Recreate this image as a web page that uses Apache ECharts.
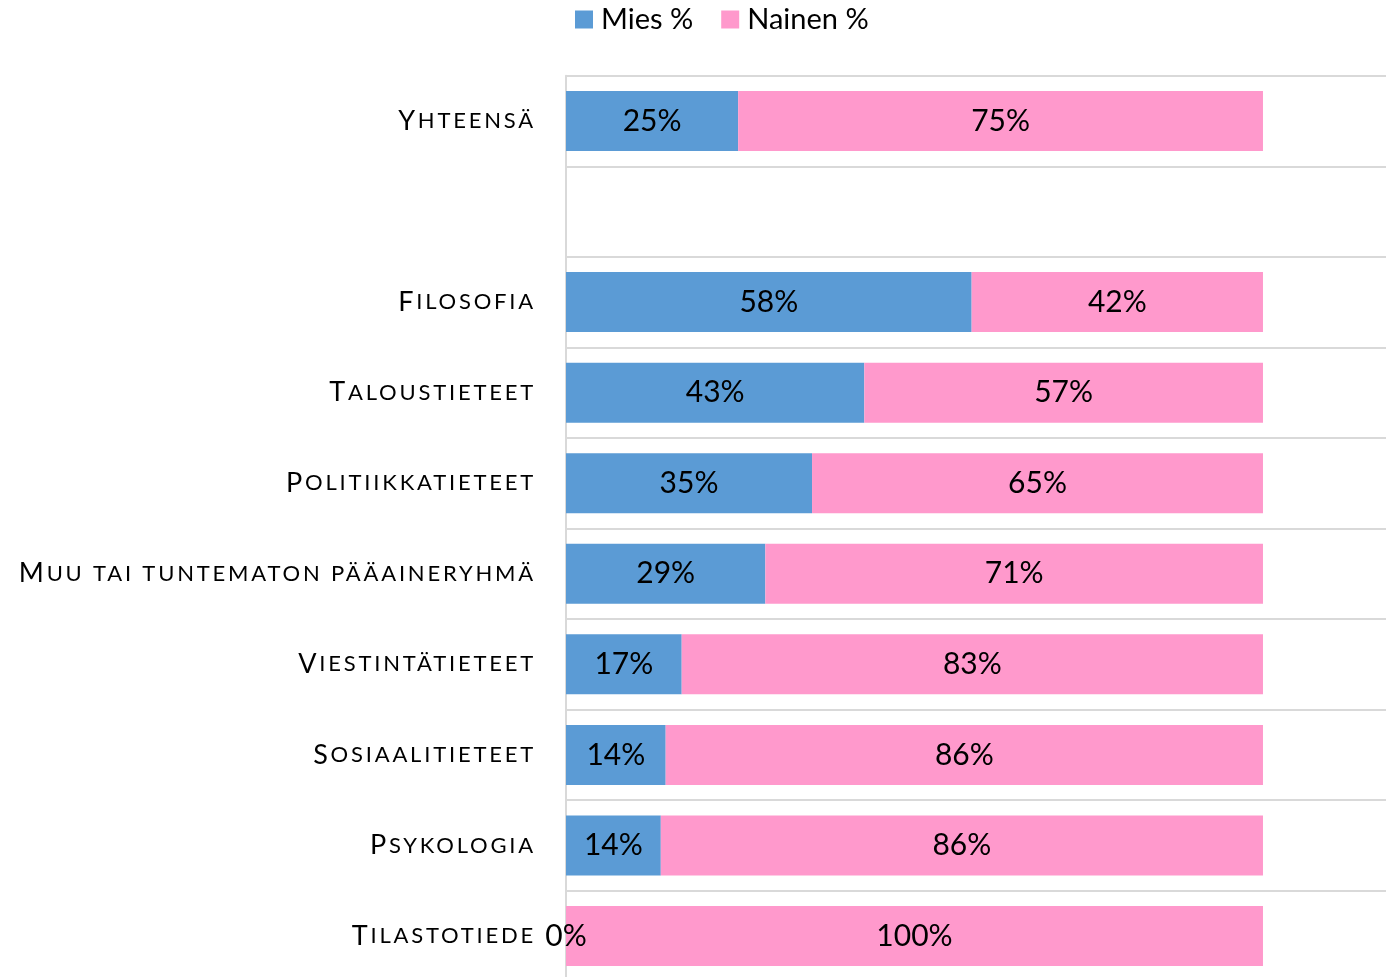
<!DOCTYPE html>
<html>
<head>
<meta charset="utf-8">
<script src="https://cdn.jsdelivr.net/npm/echarts@6/dist/echarts.min.js"></script>
<style>
html,body{margin:0;padding:0;background:#fff;}
#chart{width:1386px;height:977px;}
</style>
</head>
<body>
<div id="chart"></div>
<script>
// ---- data ----
const categories = ['Yhteensä', '', 'Filosofia', 'Taloustieteet', 'Politiikkatieteet',
  'Muu tai tuntematon pääaineryhmä', 'Viestintätieteet', 'Sosiaalitieteet', 'Psykologia', 'Tilastotiede'];
const miesPct = [24.7, '-', 58.2, 42.8, 35.3, 28.6, 16.6, 14.3, 13.6, 0];
const nainenPct = [75.3, '-', 41.8, 57.2, 64.7, 71.4, 83.4, 85.7, 86.4, 100];
const seriesNames = ['Mies %', 'Nainen %'];

// letter spacing for the small-caps category labels (font family marker "spaced")
(function () {
  const P = CanvasRenderingContext2D.prototype;
  if (!('letterSpacing' in P)) return;
  const oFill = P.fillText, oMeasure = P.measureText;
  function setLS(ctx) { ctx.letterSpacing = /spaced/.test(ctx.font) ? '2.8px' : '0px'; }
  P.fillText = function (t, x, y, m) { setLS(this); return m === undefined ? oFill.call(this, t, x, y) : oFill.call(this, t, x, y, m); };
  P.measureText = function (t) { setLS(this); return oMeasure.call(this, t); };
})();

function smallCaps(s) {
  if (!s) return '';
  return s.split(' ').map(function (w, i) {
    if (i === 0) return '{a|' + w.charAt(0).toUpperCase() + '}{b|' + w.slice(1).toUpperCase() + '}';
    return '{b|' + w.toUpperCase() + '}';
  }).join('{b| }');
}

const chart = echarts.init(document.getElementById('chart'));
const labelFmt = function (p) { return (p.value === '-' || p.value == null) ? '' : Math.round(p.value) + '%'; };
chart.setOption({
  animation: false,
  backgroundColor: '#ffffff',
  legend: {
    data: seriesNames,
    left: 570, top: 0,
    icon: 'rect', itemWidth: 18, itemHeight: 18, itemGap: 28,
    textStyle: { fontFamily: 'Lato', fontSize: 29, color: '#000', padding: [0, 0, 0, 3] }
  },
  grid: { left: 566, right: 0, top: 75.7, height: 905.6, containLabel: false, outerBoundsMode: 'none' },
  xAxis: {
    type: 'value', min: 0, max: 117.65, show: false,
    splitLine: { show: false }
  },
  yAxis: {
    type: 'category', inverse: true, data: categories,
    axisTick: { show: false },
    axisLine: { show: true, lineStyle: { color: '#d9d9d9', width: 2 } },
    splitLine: { show: true, lineStyle: { color: '#d9d9d9', width: 2 } },
    axisLabel: {
      margin: 30, align: 'right', color: '#000',
      formatter: function (v) { return smallCaps(v); },
      rich: {
        a: { fontFamily: 'Lato, spaced', fontSize: 27, color: '#000', align: 'right' },
        b: { fontFamily: 'Lato, spaced', fontSize: 22, color: '#000', align: 'right' }
      }
    }
  },
  series: [
    {
      name: seriesNames[0], type: 'bar', stack: 'total', data: miesPct, barWidth: 60,
      itemStyle: { color: '#5B9BD5' },
      label: { show: true, position: 'inside', formatter: labelFmt, fontFamily: 'Lato', fontSize: 30, color: '#000' }
    },
    {
      name: seriesNames[1], type: 'bar', stack: 'total', data: nainenPct, barWidth: 60,
      itemStyle: { color: '#FF99CC' },
      label: { show: true, position: 'inside', formatter: labelFmt, fontFamily: 'Lato', fontSize: 30, color: '#000' }
    }
  ]
});
</script>
</body>
</html>
